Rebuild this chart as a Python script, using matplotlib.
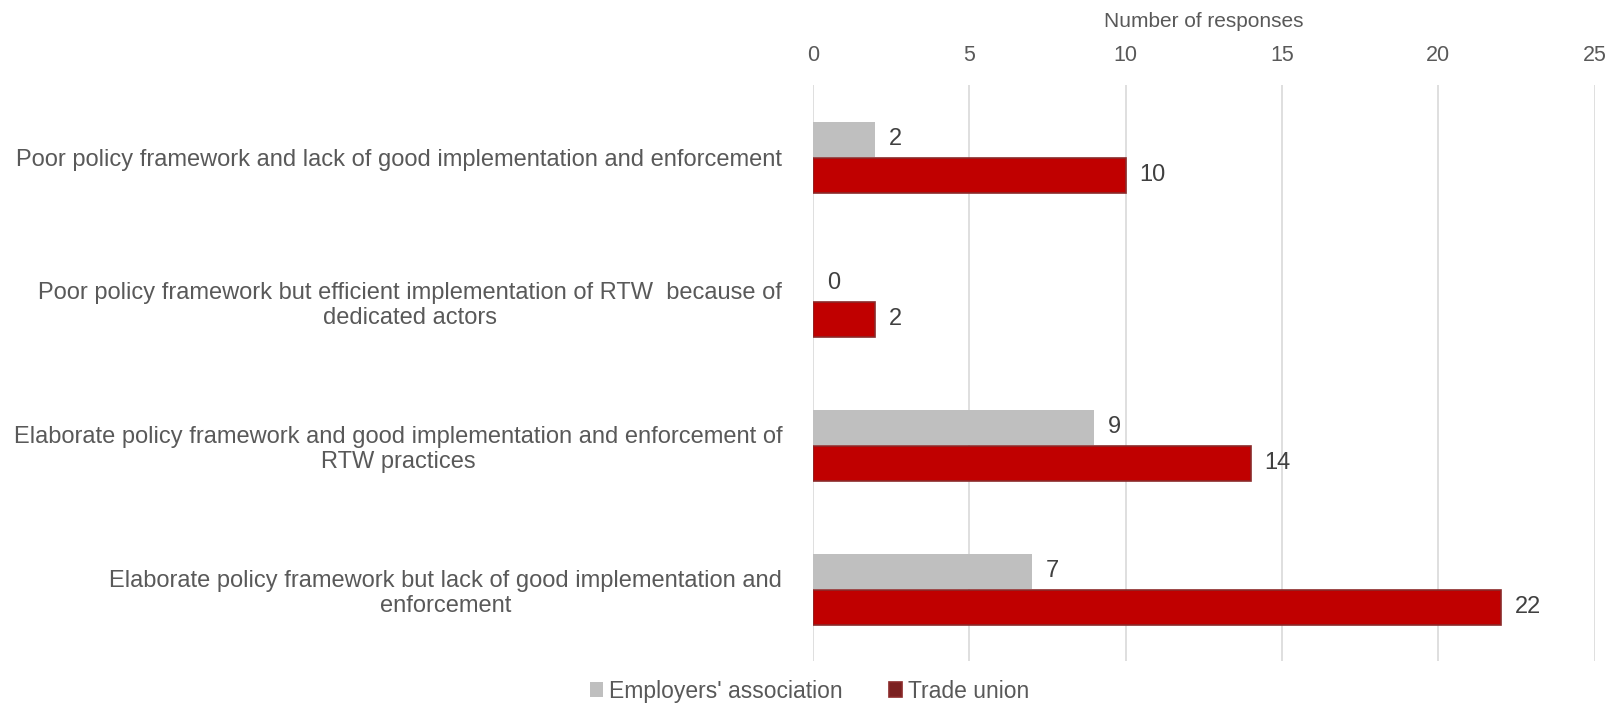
import numpy as np
import matplotlib.pyplot as plt

plt.rcParams['font.family'] = ['Liberation Sans', 'DejaVu Sans']

categories = [
    "Poor policy framework and lack of good implementation and enforcement",
    "Poor policy framework but efficient implementation of RTW  because of\ndedicated actors",
    "Elaborate policy framework and good implementation and enforcement of\nRTW practices",
    "Elaborate policy framework but lack of good implementation and\nenforcement",
]
employers = [2, 0, 9, 7]
trade_union = [10, 2, 14, 22]
x_ticks = [0, 5, 10, 15, 20, 25]

GREY = '#BFBFBF'
RED = '#C00000'
TEXT = '#595959'
LABEL = '#404040'

fig = plt.figure(figsize=(16.19, 7.05), dpi=100)
ax = fig.add_axes([0.502, 0.062, 0.483, 0.817])

y = np.arange(len(categories))
h = 0.245
b1 = ax.barh(y - 0.125, employers, height=h, color=GREY, label="Employers' association")
b2 = ax.barh(y + 0.125, trade_union, height=h, color=RED, edgecolor='#8B2A2A',
             linewidth=1.2, label='Trade union')

for bars, vals in ((b1, employers), (b2, trade_union)):
    for bar, v in zip(bars, vals):
        ax.annotate(str(v), (bar.get_width(), bar.get_y() + bar.get_height() / 2),
                    xytext=(10, 0), textcoords='offset points', va='center', ha='left',
                    fontsize=17, color=LABEL)

ax.set_xlim(0, 25)
ax.set_ylim(len(categories) - 0.5, -0.5)
ax.set_xticks(x_ticks)
ax.xaxis.tick_top()
ax.xaxis.set_label_position('top')
ax.set_xlabel('Number of responses', fontsize=15, color=TEXT, labelpad=13)
ax.tick_params(axis='x', length=0, labelsize=15.5, labelcolor=TEXT, pad=14)
ax.set_yticks(y)
ax.set_yticklabels(categories, fontsize=17, color=TEXT, multialignment='center')
ax.tick_params(axis='y', length=0, pad=22)
ax.grid(axis='x', color='#D9D9D9', linewidth=1.2)
ax.set_axisbelow(True)
for s in ax.spines.values():
    s.set_visible(False)

leg = fig.legend(handles=[b1, b2], loc='lower center', bbox_to_anchor=(0.5, -0.026), ncol=2,
                 frameon=False, fontsize=16.5, handlelength=0.6, handleheight=0.6,
                 handletextpad=0.25, columnspacing=2.0)
for t in leg.get_texts():
    t.set_color(TEXT)
leg.legend_handles[1].set_facecolor('#7B2020')

fig.savefig('out.png', dpi=100)
